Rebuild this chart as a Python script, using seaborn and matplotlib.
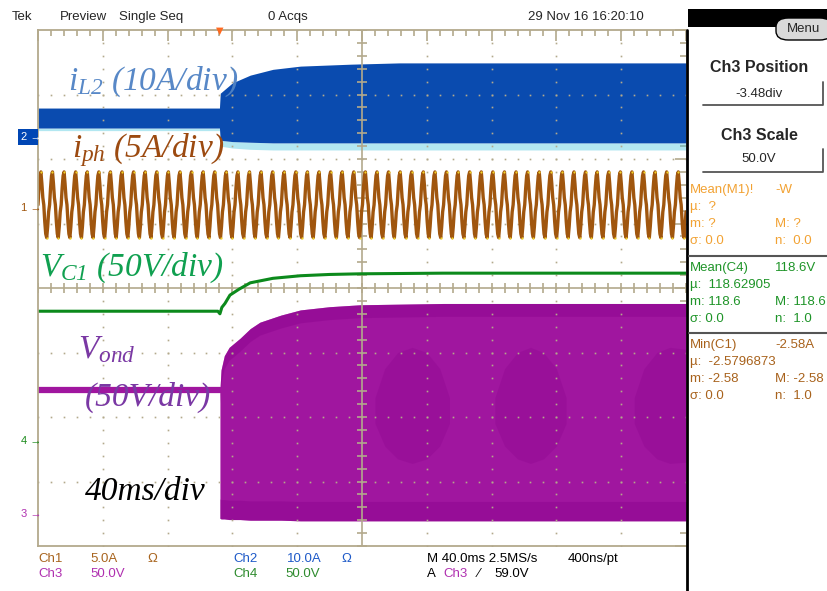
import numpy as np
import pandas as pd
import matplotlib
matplotlib.use("Agg")
import matplotlib.pyplot as plt
import seaborn as sns
from matplotlib.lines import Line2D
from matplotlib.patches import Rectangle, FancyBboxPatch

# screen: 10 div x 40 ms/div (0..400 ms), 8 vertical div (-4..4)
# ---- Ch2 iL2 (blue band), envelope in div
il2_t = [0, 112, 112.5, 120, 131, 145, 162, 193, 223, 400]
il2_top = [2.79, 2.79, 3.02, 3.18, 3.30, 3.39, 3.44, 3.47, 3.49, 3.49]
il2_bot = [2.48, 2.48, 2.29, 2.27, 2.26, 2.25, 2.25, 2.25, 2.25, 2.25]
il2_speck = [2.44, 2.44, 2.20, 2.17, 2.15, 2.14, 2.14, 2.14, 2.14, 2.14]

# ---- Ch1 iph (brown), one period of the trace in div, repeated across the screen
iph_cycle = [1.29, 1.55, 1.74, 1.80, 1.62, 1.40, 1.29, 1.03, 0.84, 0.78, 0.95, 1.18]
iph_periods = 56

# ---- Ch4 VC1 (green)
vc1_t = [0, 111, 112.3, 113.5, 115.4, 118.5, 124, 131, 145, 162, 180, 199, 250, 400]
vc1_v = [-0.36, -0.36, -0.40, -0.30, -0.24, -0.11, -0.02, 0.08, 0.15, 0.19, 0.21, 0.22, 0.23, 0.23]

# ---- Ch3 Vond (purple)
vond_pre_t = [0, 112.3]
vond_pre_v = [-1.58, -1.58]
vond_t = [112.3, 113, 115, 118, 124.7, 131, 137, 150, 162, 180, 199, 250, 400]
vond_top = [-1.58, -1.27, -1.05, -0.92, -0.78, -0.63, -0.53, -0.42, -0.34, -0.29, -0.26, -0.24, -0.24]
vond_bot = [-3.57, -3.58, -3.58, -3.59, -3.59, -3.60, -3.60, -3.60, -3.61, -3.61, -3.61, -3.61, -3.61]
# darker beat patches inside the band
beat1_t = [208, 214, 222, 231, 240, 248, 254]
beat1_hi = [-1.7, -1.25, -1.0, -0.92, -1.0, -1.25, -1.7]
beat1_lo = [-2.1, -2.45, -2.65, -2.72, -2.65, -2.45, -2.1]
beat2_t = [282, 288, 296, 304, 312, 320, 326]
beat2_hi = [-1.7, -1.25, -1.0, -0.92, -1.0, -1.25, -1.7]
beat2_lo = [-2.1, -2.45, -2.65, -2.72, -2.65, -2.45, -2.1]
beat3_t = [368, 374, 382, 390, 400]
beat3_hi = [-1.7, -1.25, -1.0, -0.92, -0.95]
beat3_lo = [-2.1, -2.45, -2.65, -2.72, -2.7]

# ---- text
header = [("Tek", 12), ("Preview", 60), ("Single Seq", 119), ("0 Acqs", 268), ("29 Nov 16 16:20:10", 528)]
meas_orange = [("Mean(M1)!", "-W"), ("µ:  ?", ""), ("m: ?", "M: ?"), ("σ: 0.0", "n:  0.0")]
meas_green = [("Mean(C4)", "118.6V"), ("µ:  118.62905", ""), ("m: 118.6", "M: 118.6"), ("σ: 0.0", "n:  1.0")]
meas_brown = [("Min(C1)", "-2.58A"), ("µ:  -2.5796873", ""), ("m: -2.58", "M: -2.58"), ("σ: 0.0", "n:  1.0")]

BLUE = "#0A4BAF"
CYAN = "#3FC4DC"
BROWN = "#A0560E"
GREEN = "#0C8A1C"
PURPLE = "#A0169F"
PURPLE_DK = "#8E0690"
TAN = "#B3A98C"

W, H = 827, 591
sns.set_style("white")
plt.rcParams["mathtext.fontset"] = "custom"
plt.rcParams["mathtext.it"] = "Liberation Serif:italic"
plt.rcParams["mathtext.rm"] = "Liberation Serif:italic"
UI = ["Liberation Sans Narrow", "Liberation Sans", "DejaVu Sans"]
plt.rcParams["font.family"] = UI


def fx(x):
    return x / W


def fy(y):
    return 1 - y / H


fig = plt.figure(figsize=(W / 100, H / 100), dpi=100)
ax = fig.add_axes([fx(38), fy(546), fx(686) - fx(38), fy(30) - fy(546)])
ax.set_xlim(0, 400)
ax.set_ylim(-4, 4)

# graticule dots on every division line
minor_t = np.arange(0, 401, 8)
minor_v = np.arange(-4, 4.01, 0.2)
for k in range(1, 10):
    if k != 5:
        ax.plot(np.full_like(minor_v, 40 * k), minor_v, ls="none", marker="s", ms=1.2, color=TAN, mew=0)
for k in range(-3, 4):
    if k != 0:
        ax.plot(minor_t, np.full_like(minor_t, k, dtype=float), ls="none", marker="s", ms=1.2, color=TAN, mew=0)
# center cross with ticks
ax.axhline(0, color=TAN, lw=1.2)
ax.axvline(200, color=TAN, lw=1.2)
ax.plot(minor_t, np.zeros_like(minor_t, dtype=float), ls="none", marker="|", ms=7, mew=1.2, color=TAN)
ax.plot(np.full_like(minor_v, 200), minor_v, ls="none", marker="_", ms=7, mew=1.2, color=TAN)

ax.set_xticks(np.arange(0, 401, 40))
ax.set_xticks(minor_t, minor=True)
ax.set_yticks(np.arange(-4, 5, 1))
ax.set_yticks(minor_v, minor=True)
ax.tick_params(which="both", direction="in", top=True, right=True, labelleft=False,
               labelbottom=False, color=TAN, width=1.2)
ax.tick_params(which="major", length=8)
ax.tick_params(which="minor", length=4)
for s in ["left", "top", "bottom"]:
    ax.spines[s].set_color(TAN)
    ax.spines[s].set_linewidth(1.3)
ax.spines["right"].set_visible(False)

# Ch2 iL2
ax.fill_between(il2_t, il2_speck, il2_bot, color=CYAN, lw=0, alpha=0.4)
ax.fill_between(il2_t, il2_bot, il2_top, color=BLUE, lw=0)

# Ch1 iph
iph_v = np.tile(iph_cycle, iph_periods)
iph_t = np.linspace(0, 400, len(iph_v))
iph = pd.DataFrame({"t": iph_t, "v": iph_v})
sns.lineplot(data=iph, x="t", y="v", ax=ax, color=BROWN, lw=2.4, estimator=None, sort=False)
pk = len(iph_cycle)
ax.plot(iph_t[3::pk], iph_v[3::pk], ls="none", marker="o", ms=1.6, color="#F2D22A", mew=0)
ax.plot(iph_t[9::pk], iph_v[9::pk], ls="none", marker="o", ms=1.6, color="#F2D22A", mew=0)

# Ch4 VC1
vc1 = pd.DataFrame({"t": vc1_t, "v": vc1_v})
sns.lineplot(data=vc1, x="t", y="v", ax=ax, color=GREEN, lw=2.2, estimator=None, sort=False)

# Ch3 Vond
sns.lineplot(x=vond_pre_t, y=vond_pre_v, ax=ax, color=PURPLE, lw=4.5, estimator=None, sort=False)
ax.fill_between(vond_t, vond_bot, vond_top, color=PURPLE, lw=0)
ax.fill_between(vond_t, np.array(vond_top) - 0.2, vond_top, color=PURPLE_DK, lw=0, alpha=0.5)
ax.fill_between(vond_t, vond_bot, np.array(vond_bot) + 0.3, color=PURPLE_DK, lw=0, alpha=0.5)
for bt, bh, bl in [(beat1_t, beat1_hi, beat1_lo), (beat2_t, beat2_hi, beat2_lo), (beat3_t, beat3_hi, beat3_lo)]:
    ax.fill_between(bt, bl, bh, color=PURPLE_DK, lw=0, alpha=0.35)

# channel annotations
lab = dict(fontfamily="Liberation Serif", style="italic", fontsize=24, va="center", ha="left")
ax.text(18.5, 3.19, r"$i_{L2}$ (10A/div)", color="#4F82C4", alpha=0.95, **lab)
ax.text(21, 2.14, r"$i_{ph}$ (5A/div)", color="#9C4A10", **lab)
ax.text(1.2, 0.31, r"$V_{C1}$ (50V/div)", color="#10A050", **lab)
ax.text(24.7, -0.96, r"$V_{ond}$", color="#7A38A4", **lab)
ax.text(29, -1.69, "(50V/div)", color="#7A38A4", **lab)
ax.text(29, -3.16, "40ms/div", color="black", **lab)

# right border of the display
fig.add_artist(Line2D([fx(686.5), fx(686.5)], [0, fy(30)], color="black", lw=2))

# ground markers at left
fig.add_artist(Rectangle((fx(18), fy(145)), fx(20), fy(129) - fy(145), color="#0046B4", lw=0))
fig.text(fx(21), fy(137), "2 →", color="white", fontsize=8, va="center")
fig.text(fx(21), fy(208), "1 →", color=BROWN, fontsize=8, va="center")
fig.text(fx(21), fy(441), "4 →", color="#1A8A1A", fontsize=8, va="center")
fig.text(fx(21), fy(514), "3 →", color="#B030B0", fontsize=8, va="center")

# trigger marker
fig.text(fx(220), fy(31), "▼", color="#FF6A20", fontsize=7, ha="center", va="center", family="DejaVu Sans")

# header
for s, x in header:
    fig.text(fx(x), fy(17), s, fontsize=9.5, va="center")

# right panel
fig.add_artist(Rectangle((fx(688), fy(27)), fx(139), fy(9) - fy(27), color="black", lw=0))
fig.add_artist(FancyBboxPatch((fx(776), fy(40)), fx(56), fy(18) - fy(40),
                              boxstyle="round,pad=0,rounding_size=0.015", fc="#D9D9D9", ec="black", lw=1))
fig.text(fx(803), fy(29), "Menu", fontsize=9.5, ha="center", va="center")
fig.text(fx(759), fy(67), "Ch3 Position", fontsize=11.5, weight="bold", ha="center", va="center")
fig.text(fx(759), fy(94), "-3.48div", fontsize=9.5, ha="center", va="center")
fig.text(fx(759), fy(135), "Ch3 Scale", fontsize=11.5, weight="bold", ha="center", va="center")
fig.text(fx(759), fy(159), "50.0V", fontsize=9.5, ha="center", va="center")
for y0, y1 in [(82, 105), (149, 172)]:
    fig.add_artist(Line2D([fx(703), fx(823), fx(823)], [fy(y1), fy(y1), fy(y0)], color="#555555", lw=1.3))
for y in [256, 333]:
    fig.add_artist(Line2D([fx(689), fx(827)], [fy(y), fy(y)], color="#555555", lw=1.5))
for rows, col, y0 in [(meas_orange, "#F2A233", 190), (meas_green, "#1E9428", 268), (meas_brown, "#A8621C", 345)]:
    for i, (a, b) in enumerate(rows):
        fig.text(fx(690), fy(y0 + 17 * i), a, color=col, fontsize=9.5, va="center")
        if b:
            fig.text(fx(775), fy(y0 + 17 * i), b, color=col, fontsize=9.5, va="center")

# bottom status
bottom = [("Ch1", 38, 559, "#A8641E"), ("5.0A", 90, 559, "#A8641E"), ("Ω", 147, 559, "#A8641E"),
          ("Ch2", 233, 559, "#1E5AC8"), ("10.0A", 287, 559, "#1E5AC8"), ("Ω", 341, 559, "#1E5AC8"),
          ("Ch3", 38, 574, "#B030B0"), ("50.0V", 90, 574, "#B030B0"),
          ("Ch4", 233, 574, "#2E8B2E"), ("50.0V", 285, 574, "#2E8B2E"),
          ("M 40.0ms 2.5MS/s", 427, 559, "black"), ("400ns/pt", 568, 559, "black"),
          ("A", 427, 574, "black"), ("Ch3", 443, 574, "#B030B0"), ("⁄", 478, 574, "black"),
          ("59.0V", 494, 574, "black")]
for s, x, y, c in bottom:
    fig.text(fx(x), fy(y), s, color=c, fontsize=9.5, va="center")

fig.savefig("out.png", dpi=100)
